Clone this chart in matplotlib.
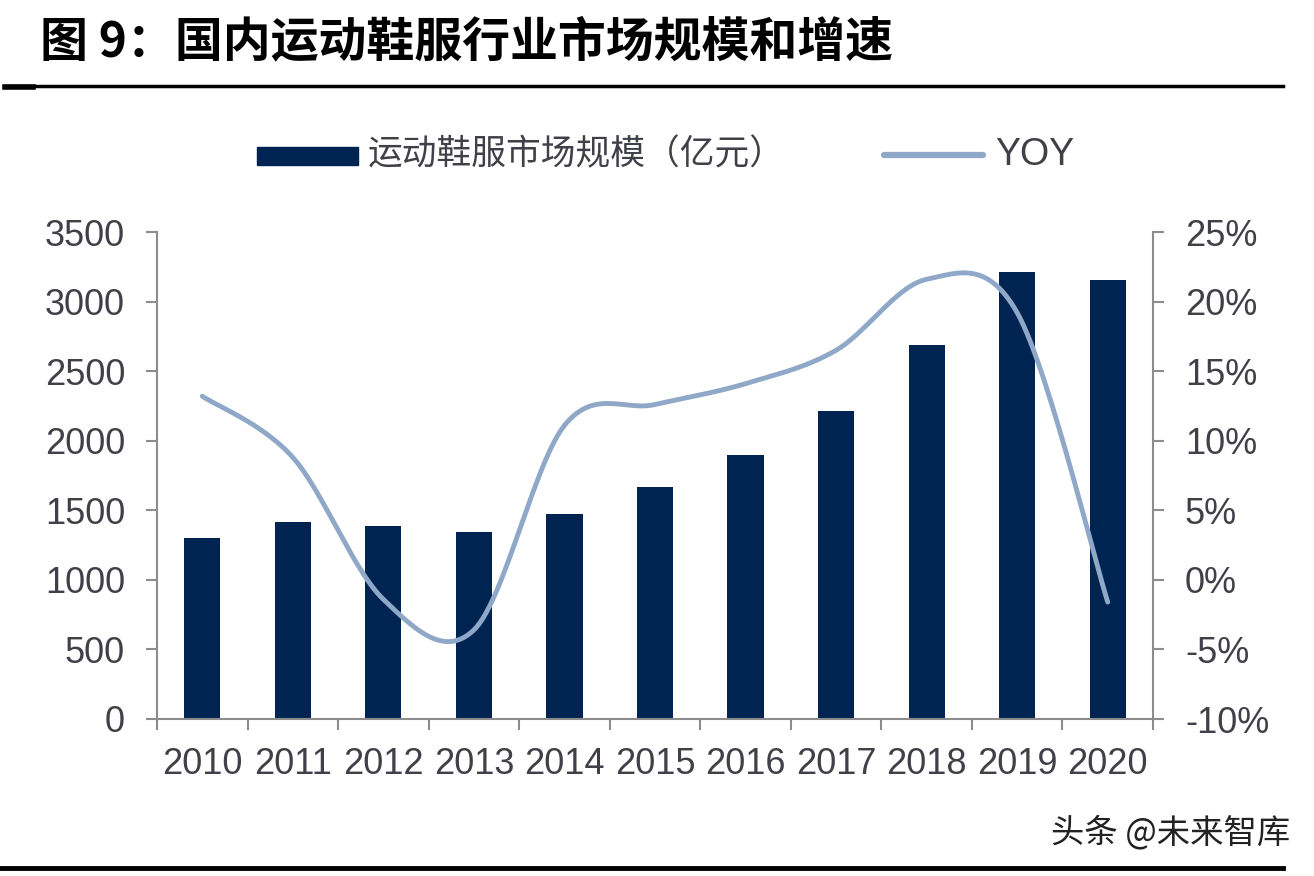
import numpy as np
import matplotlib
matplotlib.use("Agg")
import matplotlib.pyplot as plt
from matplotlib.patches import Rectangle
from matplotlib.lines import Line2D

plt.rcParams['font.family'] = ['Liberation Sans', 'Noto Sans CJK SC', 'DejaVu Sans']

years = ['2010', '2011', '2012', '2013', '2014', '2015', '2016', '2017', '2018', '2019', '2020']
market_size = [1300, 1415, 1387, 1344, 1473, 1667, 1897, 2214, 2688, 3213, 3155]
yoy = [13.2, 8.8, -1.4, -3.6, 11.1, 12.6, 14.1, 16.5, 21.6, 19.2, -1.6]

left_ticks = [0, 500, 1000, 1500, 2000, 2500, 3000, 3500]
right_ticks = [-10, -5, 0, 5, 10, 15, 20, 25]

title = '图 9：国内运动鞋服行业市场规模和增速'
bar_label = '运动鞋服市场规模（亿元）'
line_label = 'YOY'
source = '头条 @未来智库'

BAR_C = '#002452'
LINE_C = '#8FA8C8'
TXT_C = '#404048'
AX_C = '#8C8C8C'


def smooth(xs, ys, n=30):
    """Catmull-Rom style smoothing (like spreadsheet smoothed lines)."""
    xs = np.asarray(xs, float)
    ys = np.asarray(ys, float)
    px = np.concatenate([[xs[0]], xs, [xs[-1]]])
    py = np.concatenate([[ys[0]], ys, [ys[-1]]])
    outx, outy = [], []
    for i in range(1, len(px) - 2):
        p0 = np.array([px[i], py[i]])
        p3 = np.array([px[i + 1], py[i + 1]])
        c1 = p0 + (np.array([px[i + 1], py[i + 1]]) - np.array([px[i - 1], py[i - 1]])) / 6.0
        c2 = p3 - (np.array([px[i + 2], py[i + 2]]) - np.array([px[i], py[i]])) / 6.0
        t = np.linspace(0, 1, n)[:, None]
        pts = ((1 - t) ** 3) * p0 + 3 * ((1 - t) ** 2) * t * c1 + 3 * (1 - t) * t ** 2 * c2 + t ** 3 * p3
        if i > 1:
            pts = pts[1:]
        outx.extend(pts[:, 0])
        outy.extend(pts[:, 1])
    return np.array(outx), np.array(outy)


fig = plt.figure(figsize=(13.14, 8.76), dpi=100)
ax = fig.add_axes([157 / 1314, 1 - 719 / 876, (1153 - 157) / 1314, (719 - 232) / 876])
x = np.arange(len(years))
ax.bar(x, market_size, width=0.4, color=BAR_C, zorder=2)
ax.set_xlim(-0.5, len(years) - 0.5)
ax.set_ylim(0, 3500)
ax.set_yticks(left_ticks)
ax.set_yticklabels([str(v) for v in left_ticks])
ax.set_xticks(x)
ax.set_xticklabels(years)
ax.set_xticks(np.arange(-0.5, len(years)), minor=True)
ax.tick_params(axis='x', which='major', length=0, pad=20, labelsize=26, labelcolor=TXT_C)
ax.tick_params(axis='x', which='minor', length=8, width=1.5, color=AX_C, direction='out')
ax.tick_params(axis='y', length=8, width=1.5, color=AX_C, direction='out', pad=15, labelsize=26, labelcolor=TXT_C)
for s in ['top', 'right']:
    ax.spines[s].set_visible(False)
for s in ['left', 'bottom']:
    ax.spines[s].set_color(AX_C)
    ax.spines[s].set_linewidth(1.5)

ax2 = ax.twinx()
sx, sy = smooth(x, yoy)
ax2.plot(sx, sy, color=LINE_C, lw=3.5, solid_capstyle='round', zorder=3)
ax2.set_ylim(-10, 25)
ax2.set_yticks(right_ticks)
ax2.set_yticklabels([f'{v}%' for v in right_ticks])
ax2.tick_params(axis='y', length=8, width=1.5, color=AX_C, direction='out', pad=15, labelsize=26, labelcolor=TXT_C)
for s in ['top', 'left', 'bottom']:
    ax2.spines[s].set_visible(False)
ax2.spines['right'].set_color(AX_C)
ax2.spines['right'].set_linewidth(1.5)

# Title and rules
fig.text(40 / 1314, 1 - 42 / 876, title, fontsize=34.5, fontweight='bold', color='black',
         va='center', ha='left', family=['Noto Sans CJK SC', 'DejaVu Sans'])
fig.add_artist(Line2D([8 / 1314, 1283 / 1314], [1 - 86 / 876] * 2, color='black', lw=2.5))
fig.add_artist(Line2D([5 / 1314, 33 / 1314], [1 - 87 / 876] * 2, color='black', lw=4))
fig.add_artist(Line2D([0, 1283 / 1314], [1 - 868 / 876] * 2, color='black', lw=3.5))

# Legend
fig.add_artist(Rectangle((257 / 1314, 1 - 165 / 876), (358 - 257) / 1314, 18 / 876,
                         color=BAR_C, transform=fig.transFigure))
fig.text(368 / 1314, 1 - 155 / 876, bar_label, fontsize=25, color=TXT_C, va='center', ha='left',
         family=['Noto Sans CJK SC', 'DejaVu Sans'])
fig.add_artist(Line2D([884 / 1314, 983 / 1314], [1 - 155 / 876] * 2, color=LINE_C, lw=4.5,
                      solid_capstyle='round'))
fig.text(995 / 1314, 1 - 155 / 876, line_label, fontsize=27, color=TXT_C, va='center', ha='left')

fig.text(1290 / 1314, 1 - 833 / 876, source, fontsize=24, color='#222222', va='center', ha='right',
         family=['Noto Sans CJK SC', 'DejaVu Sans'])

fig.savefig('out.png', dpi=100)
